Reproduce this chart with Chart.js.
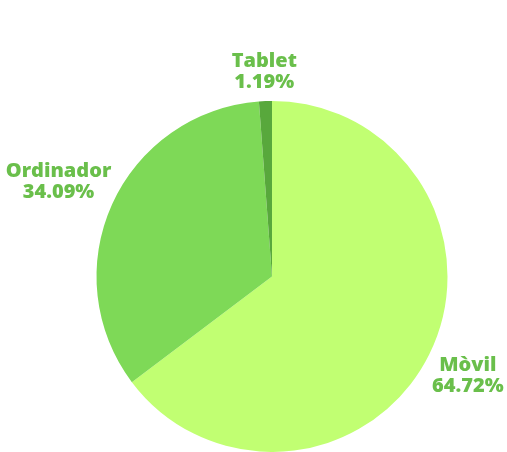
<!DOCTYPE html>
<html><head><meta charset="utf-8">
<script src="https://cdn.jsdelivr.net/npm/chart.js@4"></script>
<style>html,body{margin:0;padding:0;background:#fff;overflow:hidden}#wrap{width:507px;height:452px;position:relative}</style>
</head><body><div id="wrap"><canvas id="c"></canvas></div>
<script>
const categories = ["Mòvil", "Ordinador", "Tablet"];
const values = [64.72, 34.09, 1.19];
const valueLabels = ["64.72%", "34.09%", "1.19%"];
const colors = ["#c1ff72", "#7ed957", "#58a83c"];

const FONT = "800 20px 'Open Sans'";
const labelPlugin = {
  id: 'outerLabels',
  afterDatasetsDraw(chart) {
    const ctx = chart.ctx;
    const meta = chart.getDatasetMeta(0);
    ctx.save();
    ctx.font = FONT;
    ctx.fillStyle = '#6abf4b';
    ctx.textAlign = 'center';
    ctx.textBaseline = 'middle';
    const lh = 21;
    meta.data.forEach((arc, i) => {
      const p = arc.getProps(['x','y','startAngle','endAngle','outerRadius'], true);
      const mid = (p.startAngle + p.endAngle) / 2;
      const vx = Math.cos(mid), vy = Math.sin(mid);
      const lines = [categories[i], valueLabels[i]];
      const hw = Math.max(...lines.map(l => ctx.measureText(l).width)) / 2;
      const hh = lh;
      const k = 10 + Math.sqrt((hw*vx)**2 + (hh*vy)**2);
      const cx = p.x + vx * (p.outerRadius + k);
      const cy = p.y + vy * (p.outerRadius + k) + 2;
      ctx.fillText(lines[0], cx, cy - lh/2);
      ctx.fillText(lines[1], cx, cy + lh/2);
    });
    ctx.restore();
  }
};

new Chart(document.getElementById('c'), {
  type: 'pie',
  data: { labels: categories, datasets: [{ data: values, backgroundColor: colors, borderWidth: 0 }] },
  options: {
    responsive: true, maintainAspectRatio: false, animation: false,
    layout: { padding: { top: 101, bottom: 0, left: 96, right: 59 } },
    plugins: { legend: { display: false }, tooltip: { enabled: false } }
  },
  plugins: [labelPlugin]
});
</script></body></html>
